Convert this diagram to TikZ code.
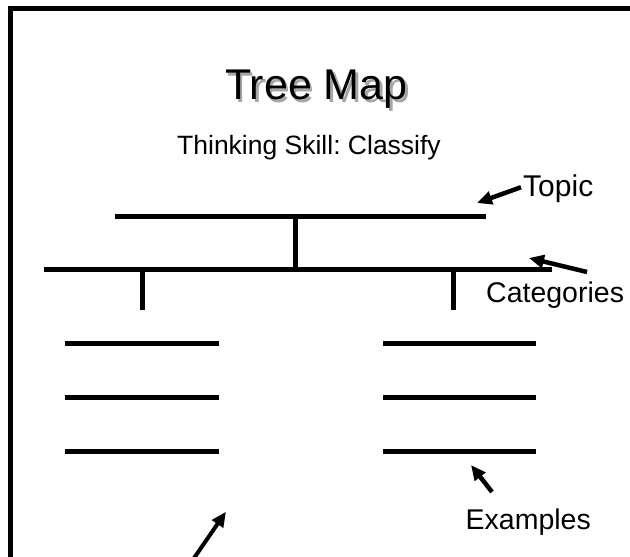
\documentclass[tikz,border=0pt]{standalone}
\usepackage{fontspec}
\setmainfont{Liberation Sans}
\usepackage{tikz}
\usetikzlibrary{arrows.meta, positioning, calc}
\frenchspacing

\begin{document}
\begin{tikzpicture}[
    x=1pt, y=1pt,
    bar/.style={line width=5pt, black},
    lbl/.style={inner sep=0pt, anchor=base west, font=\fontsize{28.5}{32}\selectfont},
    pointer/.style={line width=4.5pt, -{Triangle[length=15pt, width=13pt]}},
]

\useasboundingbox (0,0) rectangle (630,557);
\clip (0,0) rectangle (630,557);

% Frame (runs off the page at right and bottom)
\draw[line width=5pt] (10,-60) -- (10,548.5) -- (700,548.5);

% Title
\node[inner sep=0pt, anchor=base west, text=black!35, font=\fontsize{43}{50}\selectfont] (titleshadow) at (227.5,454.5) {Tree Map};
\node[inner sep=0pt, anchor=base west, font=\fontsize{43}{50}\selectfont] (title) at (225,457) {Tree Map};
\node[inner sep=0pt, anchor=base west, font=\fontsize{26.5}{30}\selectfont] (skill) at (177,402) {Thinking Skill: Classify};

% Tree
\coordinate (topicL) at (115,340.5);
\coordinate (topicR) at (486,340.5);
\coordinate (catL) at (44,287);
\coordinate (catR) at (552,287);
\draw[bar] (topicL) -- (topicR);
\draw[bar] (catL) -- (catR);
\draw[bar] (295,340.5) -- (295,287);
\draw[bar] (142,287) -- (142,247);
\draw[bar] (453.5,287) -- (453.5,247);

% Examples
\foreach \y in {213,159,105.5} {
  \draw[bar] (65,\y) -- (219,\y);
  \draw[bar] (383,\y) -- (536,\y);
}

% Labels
\node[lbl, font=\fontsize{30}{34}\selectfont] (topic) at (523,360) {Topic};
\node[lbl] (categories) at (486,254) {Categories};
\node[lbl] (examples) at (465.5,27) {Examples};

% Arrow ends
\coordinate (topictip) at (477,354);
\coordinate (cattail) at (587,285);
\coordinate (cattip) at (529,299);
\coordinate (extail) at (492,65);
\coordinate (extip) at (471,92);
\coordinate (lowtail) at (192,-4);
\coordinate (lowtip) at (226,45.3);

% Pointers
\draw[pointer] ($(topic.west)+(-2,2)$) -- (topictip);
\draw[pointer] (cattail) -- (cattip);
\draw[pointer] (extail) -- (extip);
\draw[pointer, line width=4pt] (lowtail) -- (lowtip);

\end{tikzpicture}
\end{document}
